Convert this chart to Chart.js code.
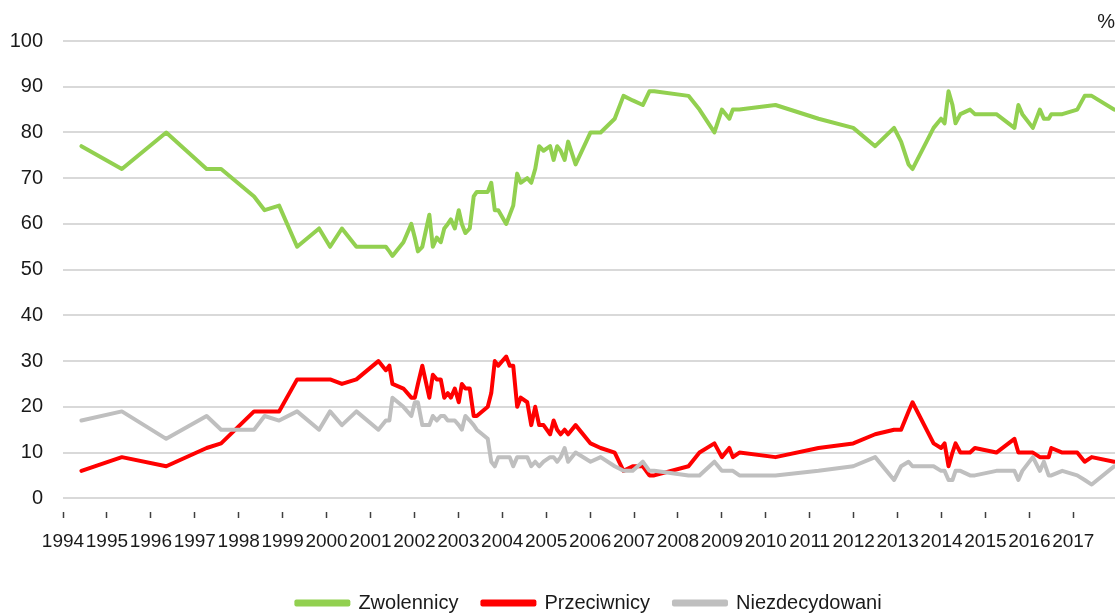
<!DOCTYPE html>
<html>
<head>
<meta charset="utf-8">
<script src="https://cdn.jsdelivr.net/npm/chart.js@4/dist/chart.umd.min.js"></script>
<style>
  html, body { margin: 0; padding: 0; background: #fff; }
  #wrap { width: 1120px; height: 616px; }
</style>
</head>
<body>
<div id="wrap"><canvas id="myChart" width="1120" height="616"></canvas></div>
<script>
// survey dates as decimal years, values in %
const dates = [
  1994.42, 1995.34, 1996.35, 1997.27, 1997.60, 1998.35, 1998.59, 1998.92, 1999.33, 1999.83,
  2000.08, 2000.35, 2000.68, 2001.18, 2001.35, 2001.43, 2001.50, 2001.75, 2001.93, 2002.01,
  2002.08, 2002.18, 2002.34, 2002.42, 2002.51, 2002.60, 2002.68, 2002.76, 2002.83, 2002.92,
  2003.01, 2003.08, 2003.16, 2003.26, 2003.35, 2003.42, 2003.67, 2003.75, 2003.83, 2003.91,
  2004.09, 2004.17, 2004.25, 2004.34, 2004.42, 2004.57, 2004.66, 2004.75, 2004.84, 2004.94,
  2005.09, 2005.17, 2005.25, 2005.33, 2005.42, 2005.50, 2005.67, 2006.01, 2006.24, 2006.56,
  2006.76, 2006.97, 2007.20, 2007.35, 2007.46, 2008.24, 2008.49, 2008.83, 2009.00, 2009.17,
  2009.25, 2009.40, 2010.22, 2011.20, 2011.99, 2012.49, 2012.92, 2013.08, 2013.25, 2013.34,
  2013.82, 2013.99, 2014.07, 2014.16, 2014.25, 2014.32, 2014.43, 2014.65, 2014.76, 2015.25,
  2015.66, 2015.75, 2015.84, 2016.08, 2016.24, 2016.33, 2016.44, 2016.50, 2016.75, 2017.09,
  2017.26, 2017.42, 2017.93
]

const zwolennicy = [
  77, 72, 80, 72, 72, 66, 63, 64, 55, 59,
  55, 59, 55, 55, 55, 54, 53, 56, 60, 57,
  54, 55, 62, 55, 57, 56, 59, 60, 61, 59,
  63, 60, 58, 59, 66, 67, 67, 69, 63, 63,
  60, 62, 64, 71, 69, 70, 69, 72, 77, 76,
  77, 74, 77, 76, 74, 78, 73, 80, 80, 83,
  88, 87, 86, 89, 89, 88, 85, 80, 85, 83,
  85, 85, 86, 83, 81, 77, 81, 78, 73, 72,
  81, 83, 82, 89, 86, 82, 84, 85, 84, 84,
  81, 86, 84, 81, 85, 83, 83, 84, 84, 85,
  88, 88, 85
]

const przeciwnicy = [
  6, 9, 7, 11, 12, 19, 19, 19, 26, 26,
  26, 25, 26, 30, 28, 29, 25, 24, 22, 22,
  25, 29, 22, 27, 26, 26, 22, 23, 22, 24,
  21, 25, 24, 24, 18, 18, 20, 23, 30, 29,
  31, 29, 29, 20, 22, 21, 16, 20, 16, 16,
  14, 17, 15, 14, 15, 14, 16, 12, 11, 10,
  6, 7, 7, 5, 5, 7, 10, 12, 9, 11,
  9, 10, 9, 11, 12, 14, 15, 15, 19, 21,
  12, 11, 12, 7, 10, 12, 10, 10, 11, 10,
  13, 10, 10, 10, 9, 9, 9, 11, 10, 10,
  8, 9, 8
]

const niezdecydowani = [
  17, 19, 13, 18, 15, 15, 18, 17, 19, 15,
  19, 16, 19, 15, 17, 17, 22, 20, 18, 21,
  21, 16, 16, 18, 17, 18, 18, 17, 17, 17,
  16, 15, 18, 17, 16, 15, 13, 8, 7, 9,
  9, 9, 7, 9, 9, 9, 7, 8, 7, 8,
  9, 9, 8, 9, 11, 8, 10, 8, 9, 7,
  6, 6, 8, 6, 6, 5, 5, 8, 6, 6,
  6, 5, 5, 6, 7, 9, 4, 7, 8, 7,
  7, 6, 6, 4, 4, 6, 6, 5, 5, 6,
  6, 4, 6, 9, 6, 8, 5, 5, 6, 5,
  4, 3, 7
]

const years = [1994, 1995, 1996, 1997, 1998, 1999, 2000, 2001, 2002, 2003, 2004, 2005,
  2006, 2007, 2008, 2009, 2010, 2011, 2012, 2013, 2014, 2015, 2016, 2017]
const yTicks = [0, 10, 20, 30, 40, 50, 60, 70, 80, 90, 100]

const seriesNames = ["Zwolennicy", "Przeciwnicy", "Niezdecydowani"]
const seriesColors = ["#92d050", "#ff0000", "#bfbfbf"]

Chart.defaults.font.family = "'Liberation Sans', Arial, sans-serif"
Chart.defaults.color = "#1a1a1a"

const toPoints = arr => arr.map((v, i) => ({x: dates[i], y: v}))

const makeSet = (i, values, order) => ({
  label: seriesNames[i],
  data: toPoints(values),
  borderColor: seriesColors[i],
  backgroundColor: seriesColors[i],
  borderWidth: 4,
  borderJoinStyle: 'round',
  borderCapStyle: 'round',
  pointRadius: 0,
  pointHoverRadius: 0,
  tension: 0,
  fill: false,
  order: order
})

const data = {
  datasets: [
    makeSet(0, zwolennicy, 3),
    makeSet(1, przeciwnicy, 2),
    makeSet(2, niezdecydowani, 1)
  ]
}

// keep the legend short so it sits near the bottom edge
const legendHeight = {
  id: 'legendHeight',
  afterInit(chart) {
    const lg = chart.legend
    const fit = lg.fit
    lg.fit = function () {
      fit.call(this)
      this.height = 47
    }
  }
}

const options = {
  responsive: false,
  animation: false,
  layout: { padding: { left: 0, right: 5, top: 0, bottom: 0 } },
  plugins: {
    title: {
      display: true,
      text: '%',
      align: 'end',
      color: '#1a1a1a',
      font: { size: 20, weight: 'normal' },
      padding: { top: 10, bottom: 7 }
    },
    legend: {
      position: 'bottom',
      fullSize: false,
      labels: {
        boxWidth: 52,
        boxHeight: 3,
        padding: 24,
        font: { size: 20 },
        color: '#1a1a1a',
        sort: (a, b) => a.datasetIndex - b.datasetIndex
      }
    },
    tooltip: { enabled: false }
  },
  scales: {
    x: {
      type: 'linear',
      min: 1994,
      max: 2017.95,
      afterBuildTicks: axis => {
        axis.ticks = years.map(y => ({value: y}))
      },
      afterFit: scale => { scale.height = 57 },
      ticks: {
        autoSkip: false,
        maxRotation: 0,
        padding: 12,
        font: { size: 19 },
        callback: v => String(v)
      },
      grid: {
        drawOnChartArea: false,
        drawTicks: true,
        tickLength: 6,
        tickWidth: 1.5,
        tickColor: '#404040'
      },
      border: { display: false }
    },
    y: {
      min: -3,
      max: 100,
      afterBuildTicks: axis => {
        axis.ticks = yTicks.map(v => ({value: v}))
      },
      afterFit: scale => { scale.width = 63 },
      ticks: {
        padding: 20,
        font: { size: 20 }
      },
      grid: {
        color: '#d9d9d9',
        lineWidth: 2,
        drawTicks: false
      },
      border: { display: false }
    }
  }
}

const config = {
  type: 'line',
  data: data,
  options: options,
  plugins: [legendHeight]
}

const chart = new Chart(document.querySelector("#myChart"), config)
</script>
</body>
</html>
